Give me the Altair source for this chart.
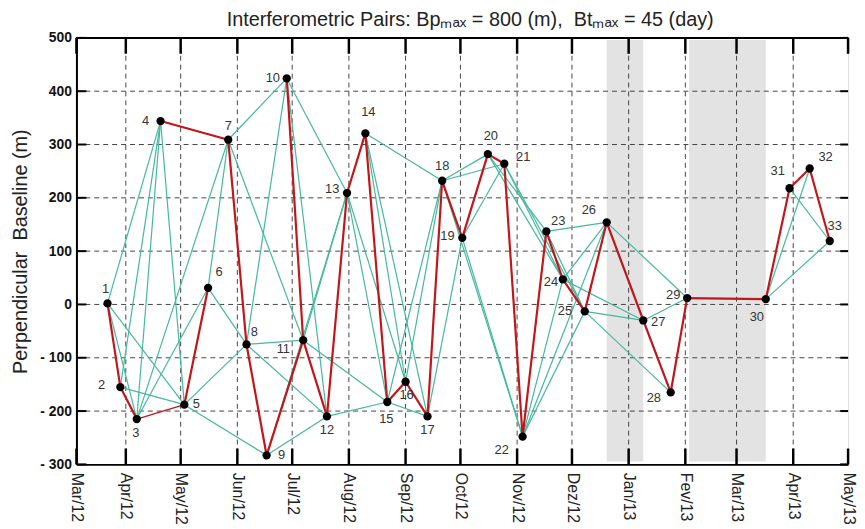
import json
import altair as alt
import pandas as pd

# ---------------- data ----------------
point_ids = list(range(1, 34))
acq_dates = ["2012-03-22", "2012-03-29", "2012-04-07", "2012-04-20", "2012-05-03",
             "2012-05-16", "2012-05-27", "2012-06-06", "2012-06-17", "2012-06-28",
             "2012-07-07", "2012-07-20", "2012-07-31", "2012-08-10", "2012-08-22",
             "2012-09-01", "2012-09-13", "2012-09-21", "2012-10-02", "2012-10-16",
             "2012-10-25", "2012-11-04", "2012-11-17", "2012-11-26", "2012-12-08",
             "2012-12-20", "2013-01-09", "2013-01-24", "2013-02-02", "2013-03-17",
             "2013-03-30", "2013-04-10", "2013-04-21"]
baselines = [2, -155, -215, 344, -188, 31, 309, -75, -283, 424,
             -67, -210, 209, 321, -183, -145, -210, 232, 125, 282,
             264, -248, 137, 47, -13, 154, -30, -165, 12, 10,
             218, 255, 119]

red_pairs = [(1, 2), (2, 3), (3, 5), (5, 6), (4, 7), (7, 8), (8, 9), (9, 11),
             (10, 11), (11, 12), (12, 13), (13, 14), (14, 15), (15, 16), (16, 17),
             (17, 18), (18, 19), (19, 20), (20, 21), (21, 22), (22, 23), (23, 24),
             (24, 25), (25, 26), (26, 27), (27, 28), (28, 29), (29, 30), (30, 31),
             (31, 32), (32, 33)]
thin_red_pairs = [(3, 5)]
green_pairs = [(1, 3), (1, 4), (1, 5), (2, 4), (2, 5), (3, 4), (3, 6), (3, 7),
               (4, 5), (5, 8), (5, 9), (6, 7), (6, 8), (7, 10), (7, 11), (8, 10),
               (8, 11), (8, 12), (9, 12), (9, 13), (10, 12), (10, 13), (11, 13),
               (11, 15), (12, 15), (13, 15), (13, 16), (14, 16), (14, 17), (14, 18),
               (15, 17), (15, 18), (16, 18), (17, 19), (18, 20), (18, 21), (18, 22),
               (19, 21), (19, 22), (20, 23), (20, 24), (21, 24), (21, 25), (22, 24),
               (22, 25), (22, 26), (23, 25), (23, 26), (24, 26), (24, 27), (25, 27),
               (25, 28), (26, 28), (26, 29), (27, 29), (30, 32), (30, 33), (31, 33)]

# axis starts a few days into March 2012; first label sits at the axis origin
x_start, x_end = "2012-03-05", "2013-05-01"
tick_dates = ["2012-03-05", "2012-04-01", "2012-05-01", "2012-06-01", "2012-07-01",
              "2012-08-01", "2012-09-01", "2012-10-01", "2012-11-01", "2012-12-01",
              "2013-01-01", "2013-02-01", "2013-03-01", "2013-04-01", "2013-05-01"]
tick_labels = ["Mar/12", "Apr/12", "May/12", "Jun/12", "Jul/12", "Aug/12", "Sep/12",
               "Oct/12", "Nov/12", "Dez/12", "Jan/13", "Fev/13", "Mar/13", "Apr/13",
               "May/13"]
y_ticks = [-300, -200, -100, 0, 100, 200, 300, 400, 500]

gap_starts = ["2012-12-20", "2013-02-03"]
gap_ends = ["2013-01-09", "2013-03-17"]

title_text = "Interferometric Pairs: Bp\u2098\u2090\u2093 = 800 (m),\u00a0 Bt\u2098\u2090\u2093 = 45 (day)"

# label placement around each point (pixels): style only
label_dx = [-2, -19, -1, -15, 12, 11, 0, 8, 15, -14, -20, 0, -15, 3, -1, 1, 0,
            0, -15, 3, 19, -21, 12, -12, -20, -18, 15, -17, -14, -9, -12, 16, 5]
label_dy = [-14, -2, 14, 0, -1, -16, -14, -13, 0, 0, 9, 14, -4, -21, 17, 13, 14,
            -15, -2, -18, -7, 13, -10, 3, 0, -12, 2, 6, -3, 18, -17, -12, -15]

# ---------------- layout ----------------
W, H = 778, 430
FONT = "Liberation Sans"
GREEN = "#45b89f"
RED = "#c0161c"
X0, X1 = pd.Timestamp(x_start), pd.Timestamp(x_end)
px_per_day = W / (X1 - X0).days
px_per_m = H / 800.0

pts = pd.DataFrame({"id": point_ids, "date": pd.to_datetime(acq_dates), "bp": baselines})
pts["lab"] = pts["id"].astype(str)
pts["lx"] = pts["date"] + pd.to_timedelta([dx / px_per_day for dx in label_dx], unit="D")
pts["ly"] = pts["bp"] - pd.Series([dy / px_per_m for dy in label_dy])

def edges(pairs, thin=()):
    rows = []
    for a, b in pairs:
        pa, pb = pts.iloc[a - 1], pts.iloc[b - 1]
        rows.append({"xa": pa["date"], "xb": pb["date"], "ya": pa["bp"], "yb": pb["bp"],
                     "w": 1.3 if (a, b) in thin else 2.2})
    return pd.DataFrame(rows)

green_df = edges(green_pairs)
red_df = edges(red_pairs, thin_red_pairs)
ticks_df = pd.DataFrame({"d": pd.to_datetime(tick_dates)})
inner_ticks_df = ticks_df.iloc[1:-1]
y_df = pd.DataFrame({"v": y_ticks})
y_inner_df = pd.DataFrame({"v": y_ticks[1:-1]})
gaps_df = pd.DataFrame({"s": pd.to_datetime(gap_starts), "e": pd.to_datetime(gap_ends)})
title_df = pd.DataFrame({"t": [title_text]})

label_expr = json.dumps(tick_labels) + "[round((year(datum.value) - 2012) * 12 + month(datum.value) - 2)]"
y_label_expr = "datum.value < 0 ? '- ' + abs(datum.value) : datum.label"

def dt(s):
    return alt.DateTime(year=int(s[:4]), month=int(s[5:7]), date=int(s[8:10]))

x_scale = alt.Scale(domain=[dt(x_start), dt(x_end)])
y_scale = alt.Scale(domain=[-300, 500], nice=False)

x_axis = alt.Axis(values=[dt(d) for d in tick_dates],
                  labelExpr=label_expr, labelAngle=90, labelFont=FONT, labelFontSize=16,
                  labelColor="#222", labelPadding=8, ticks=False, tickSize=0, grid=False,
                  domainColor="black", domainWidth=2, title=None, labelOverlap=False)
y_axis = alt.Axis(values=y_ticks, labelExpr=y_label_expr, labelFont=FONT, labelFontSize=14,
                  labelFontWeight="bold", labelColor="#111", labelPadding=5, ticks=False,
                  tickSize=0, grid=False, domainColor="black", domainWidth=2,
                  title="Perpendicular\u00a0 Baseline (m)", titleFont=FONT, titleFontSize=20,
                  titleFontWeight="normal", titleColor="#222", titlePadding=9)

base = alt.Chart(pts)

bands = alt.Chart(gaps_df).mark_rect(color="#e3e3e3").encode(
    x=alt.X("s:T", scale=x_scale, axis=x_axis), x2="e:T",
    y=alt.value(2), y2=alt.value(H - 3))

vgrid = alt.Chart(inner_ticks_df).mark_rule(color="#444", strokeWidth=1, strokeDash=[5, 4]).encode(
    x=alt.X("d:T", scale=x_scale), y=alt.value(0), y2=alt.value(H))
hgrid = alt.Chart(y_inner_df).mark_rule(color="#444", strokeWidth=1, strokeDash=[5, 4]).encode(
    y=alt.Y("v:Q", scale=y_scale, axis=y_axis), x=alt.value(0), x2=alt.value(W))

green = alt.Chart(green_df).mark_rule(color=GREEN, strokeWidth=1.2).encode(
    x=alt.X("xa:T", scale=x_scale), x2="xb:T",
    y=alt.Y("ya:Q", scale=y_scale), y2="yb:Q")
red = alt.Chart(red_df).mark_rule(color=RED).encode(
    x=alt.X("xa:T", scale=x_scale), x2="xb:T",
    y=alt.Y("ya:Q", scale=y_scale), y2="yb:Q",
    strokeWidth=alt.StrokeWidth("w:Q", scale=None, legend=None))

points = base.mark_circle(size=70, color="black", opacity=1).encode(
    x=alt.X("date:T", scale=x_scale), y=alt.Y("bp:Q", scale=y_scale))
labels = base.mark_text(font=FONT, fontSize=13, color="#333", align="center",
                        baseline="middle").encode(
    x=alt.X("lx:T", scale=x_scale), y=alt.Y("ly:Q", scale=y_scale), text="lab:N")

bottom_ticks = alt.Chart(ticks_df).mark_rule(color="black", strokeWidth=2.5).encode(
    x=alt.X("d:T", scale=x_scale), y=alt.value(H), y2=alt.value(H - 16))
top_ticks = alt.Chart(ticks_df).mark_rule(color="black", strokeWidth=2.5).encode(
    x=alt.X("d:T", scale=x_scale), y=alt.value(0), y2=alt.value(16))
left_ticks = alt.Chart(y_df).mark_rule(color="black", strokeWidth=2).encode(
    y=alt.Y("v:Q", scale=y_scale), x=alt.value(0), x2=alt.value(10))
right_ticks = alt.Chart(y_df).mark_rule(color="black", strokeWidth=2).encode(
    y=alt.Y("v:Q", scale=y_scale), x=alt.value(W - 8), x2=alt.value(W))
top_line = alt.Chart(y_df).mark_rule(color="black", strokeWidth=2).encode(
    x=alt.value(0), x2=alt.value(W), y=alt.value(0))

title = alt.Chart(title_df).mark_text(font=FONT, fontSize=20, color="#222", align="center",
                                      baseline="alphabetic").encode(
    text="t:N", x=alt.value(W / 2 + 8), y=alt.value(-12))

chart = alt.layer(
    bands, vgrid, hgrid, green, red, points, labels,
    bottom_ticks, top_ticks, left_ticks, right_ticks, top_line, title
).properties(
    width=W, height=H,
    autosize=alt.AutoSizeParams(type="none"),
    padding={"left": 69, "top": 28, "right": 9, "bottom": 62},
).configure_view(stroke=None).configure(background="white")

chart.save("out.html", embed_options={"renderer": "svg", "actions": False})
